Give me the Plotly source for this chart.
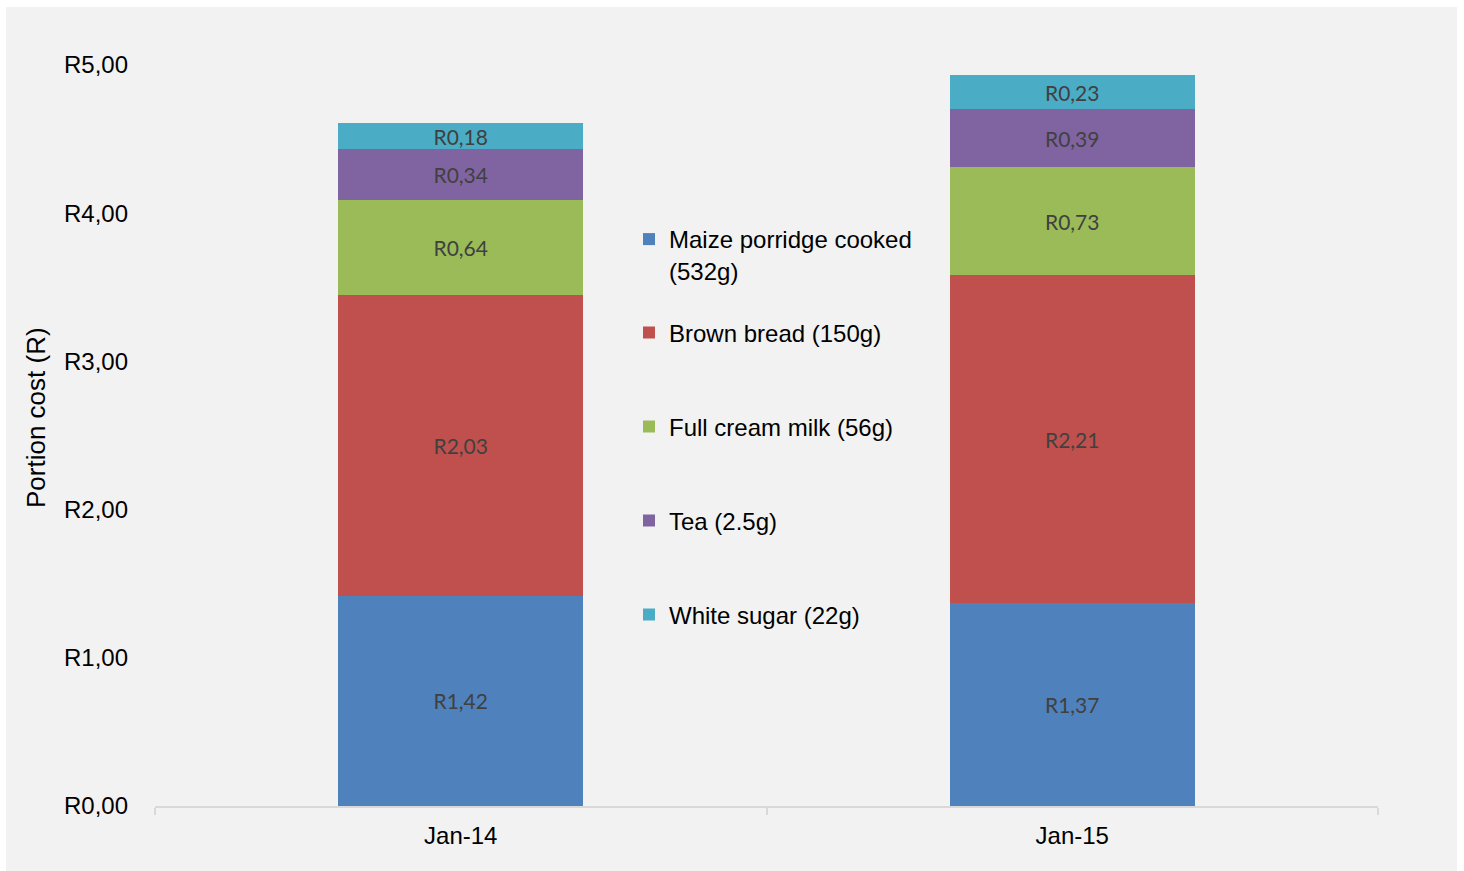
import plotly.graph_objects as go

categories = ["Jan-14", "Jan-15"]
series_names = [
    "Maize porridge cooked<br>(532g)",
    "Brown bread (150g)",
    "Full cream milk (56g)",
    "Tea (2.5g)",
    "White sugar (22g)",
]
maize = [1.42, 1.37]
bread = [2.03, 2.21]
milk = [0.64, 0.73]
tea = [0.34, 0.39]
sugar = [0.18, 0.23]
series_values = [maize, bread, milk, tea, sugar]
colors = ["#4f81bd", "#c0504d", "#9bbb59", "#8064a2", "#4bacc6"]

y_tickvals = [0, 1, 2, 3, 4, 5]
y_ticktext = ["R0,00", "R1,00", "R2,00", "R3,00", "R4,00", "R5,00"]

# layout geometry (pixels)
W, H = 1464, 871
L, R, T, B = 155, 86, 65, 65
pw, ph = W - L - R, H - T - B


def px_to_paper_x(px):
    return (px - L) / pw


def px_to_paper_y(py):
    return (H - B - py) / ph


legend_ids = ["legend", "legend2", "legend3", "legend4", "legend5"]
legend_centers = [239, 333, 427, 521, 615]

fig = go.Figure()
for name, vals, col, lid in zip(series_names, series_values, colors, legend_ids):
    fig.add_trace(go.Bar(
        x=categories, y=vals, name=name, legend=lid,
        marker=dict(color=col, line=dict(width=0)),
        width=0.4,
        texttemplate="R%{y:.2f}", textposition="inside", insidetextanchor="middle",
        textangle=0, constraintext="none",
        textfont=dict(family="Lato", size=21, color="#404040"),
        hoverinfo="skip",
    ))

FONT = "Liberation Sans, Arial"
legend_common = dict(
    font=dict(family=FONT, size=24, color="#000000"),
    bgcolor="rgba(0,0,0,0)", borderwidth=0, xanchor="left",
    itemclick=False, itemdoubleclick=False,
)
layout_legends = {}
for i, (lid, cy) in enumerate(zip(legend_ids, legend_centers)):
    d = dict(legend_common)
    d["x"] = px_to_paper_x(629)
    if i == 0:
        d["yanchor"] = "top"
        d["y"] = px_to_paper_y(cy - 22)
        d["valign"] = "top"
    else:
        d["yanchor"] = "middle"
        d["y"] = px_to_paper_y(cy)
    layout_legends[lid] = d

fig.update_layout(
    width=W, height=H,
    margin=dict(l=L, r=R, t=T, b=B, pad=0),
    paper_bgcolor="#ffffff", plot_bgcolor="rgba(0,0,0,0)",
    barmode="stack",
    separators=", ",
    font=dict(family=FONT, size=24, color="#000000"),
    showlegend=True,
    **layout_legends,
    xaxis=dict(
        type="category", range=[-0.5, 1.5],
        showline=True, linecolor="#d9d9d9", linewidth=2,
        ticks="outside", ticklen=7, tickwidth=2, tickcolor="#d9d9d9",
        tickson="boundaries", showgrid=False, zeroline=False,
        tickfont=dict(family=FONT, size=24, color="#000000"),
        ticklabelstandoff=7,
    ),
    yaxis=dict(
        range=[0, 5], tickvals=y_tickvals, ticktext=y_ticktext,
        showline=False, showgrid=False, zeroline=False, ticks="",
        tickfont=dict(family=FONT, size=24, color="#000000"),
        ticklabelstandoff=26,
    ),
    shapes=[dict(
        type="rect", xref="paper", yref="paper", layer="below",
        x0=px_to_paper_x(6), x1=px_to_paper_x(1457),
        y0=px_to_paper_y(871), y1=px_to_paper_y(7),
        fillcolor="#f2f2f2", line=dict(width=0),
    )],
    annotations=[dict(
        text="Portion cost (R)", textangle=-90,
        xref="paper", yref="paper",
        x=px_to_paper_x(36), y=px_to_paper_y(418),
        xanchor="center", yanchor="middle", showarrow=False,
        font=dict(family=FONT, size=26, color="#000000"),
    )],
)

fig.write_html("out.html")
